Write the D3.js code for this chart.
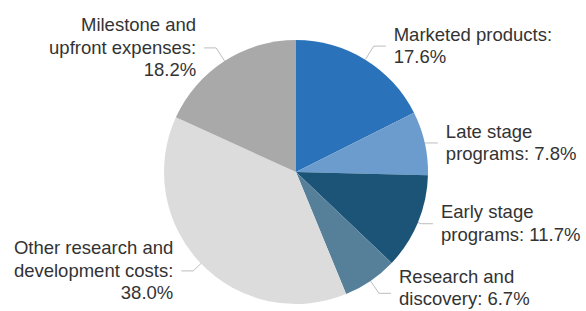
<!DOCTYPE html>
<html>
<head>
<meta charset="utf-8">
<script src="https://cdn.jsdelivr.net/npm/d3@7"></script>
<style>
  body { margin: 0; background: #fff; }
  text { font-family: 'Liberation Sans', Arial, sans-serif; }
</style>
</head>
<body>
<div id="chart"></div>
<script>
// slices, clockwise from 12 o'clock; '|' marks a line break in the label
let names = [
  'Marketed products:|',
  'Late stage|programs: ',
  'Early stage|programs: ',
  'Research and|discovery: ',
  'Other research and|development costs:|',
  'Milestone and|upfront expenses:|'
]
let shares = [17.6, 7.8, 11.7, 6.7, 38.0, 18.2]
let colors = ['#2a73ba', '#6b9ccd', '#1c5478', '#56809a', '#dcdcdc', '#a9a9a9']

let width = 586
let height = 311
let cx = 296
let cy = 172
let radius = 132
let lineHeight = 22.5

let svg = d3
  .select('#chart')
  .append('svg')
  .attr('width', width)
  .attr('height', height)

let g = svg.append('g').attr('transform', 'translate(' + cx + ',' + cy + ')')

let datapoints = names.map((d, i) => {
  return { name: d, share: shares[i], color: colors[i] }
})

let pie = d3
  .pie()
  .sort(null)
  .value(d => d.share)

let arc = d3
  .arc()
  .innerRadius(0)
  .outerRadius(radius)

let arcs = pie(datapoints)

g.selectAll('path.slice')
  .data(arcs)
  .enter()
  .append('path')
  .attr('class', 'slice')
  .attr('d', arc)
  .attr('fill', d => d.data.color)

function midAngle(d) {
  return (d.startAngle + d.endAngle) / 2
}

function isRight(d) {
  return midAngle(d) < Math.PI
}

// point on the ray through the middle of the slice
function rayPoint(d, r) {
  let a = midAngle(d)
  return [r * Math.sin(a), -r * Math.cos(a)]
}

// elbow: slices pointing up or down get a longer radial leg
function elbow(d) {
  let c = Math.cos(midAngle(d))
  return rayPoint(d, radius + 22 * c * c)
}

// leader lines
g.selectAll('polyline')
  .data(arcs)
  .enter()
  .append('polyline')
  .attr('fill', 'none')
  .attr('stroke', '#bdbdbd')
  .attr('stroke-width', 1)
  .attr('points', d => {
    let p0 = rayPoint(d, radius)
    let p1 = elbow(d)
    let p2 = [p1[0] + (isRight(d) ? 12 : -12), p1[1]]
    return [p0, p1, p2].map(p => p.join(',')).join(' ')
  })

// labels
let labels = g
  .selectAll('text.label')
  .data(arcs)
  .enter()
  .append('text')
  .attr('class', 'label')
  .attr('fill', '#333')
  .attr('font-size', 18.5)
  .attr('text-anchor', d => (isRight(d) ? 'start' : 'end'))
  .attr('transform', d => {
    let p1 = elbow(d)
    let x = p1[0] + (isRight(d) ? 20 : -20)
    return 'translate(' + x + ',' + p1[1] + ')'
  })

labels.each(function(d) {
  let lines = (d.data.name + d.data.share.toFixed(1) + '%').split('|')
  let n = lines.length
  let y0 = elbow(d)[1]
  // keep the last line inside the bottom edge
  let last = y0 + ((n - 1) / 2) * lineHeight + 6
  let shift = Math.min(0, height - cy - 6 - last)
  d3.select(this)
    .selectAll('tspan')
    .data(lines)
    .enter()
    .append('tspan')
    .attr('x', 0)
    .attr('y', (t, i) => (i - (n - 1) / 2) * lineHeight + 6 + shift)
    .text(t => t)
})
</script>
</body>
</html>
